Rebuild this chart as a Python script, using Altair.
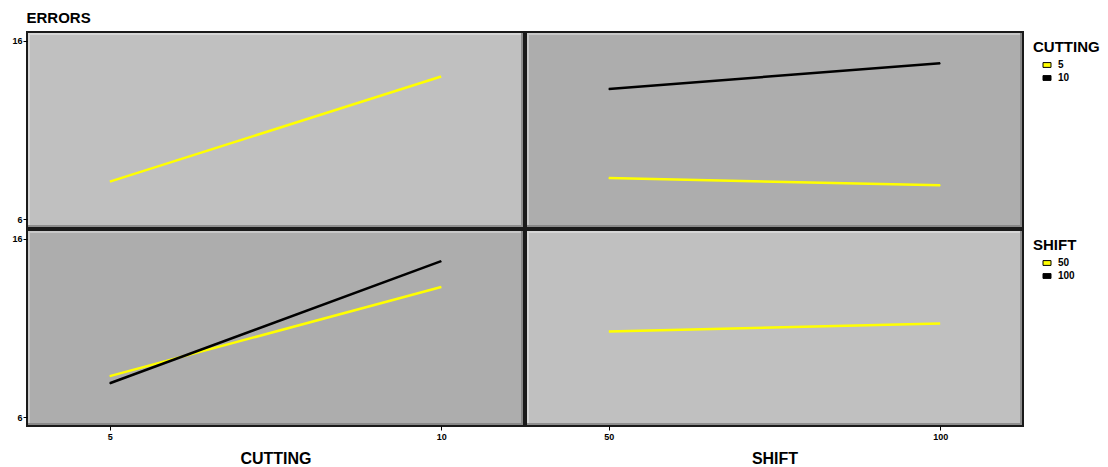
import altair as alt
import pandas as pd

# ---- data ----
cutting_levels = [5, 10]
shift_levels = [50, 100]
cutting_main = [8.1, 14.0]          # mean ERRORS by CUTTING
shift_main = [10.8, 11.25]          # mean ERRORS by SHIFT
errors_cut5 = [8.3, 7.9]            # CUTTING=5 at SHIFT 50, 100
errors_cut10 = [13.3, 14.75]        # CUTTING=10 at SHIFT 50, 100

FONT = "Liberation Sans"
LIGHT = "#C0C0C0"
DARK = "#ADADAD"
YELLOW = "#FFFF00"
W, H = 497, 196
YDOM = [5.5, 16.5]

df_main_cut = pd.DataFrame({"CUTTING": cutting_levels, "ERRORS": cutting_main})
df_main_shift = pd.DataFrame({"SHIFT": shift_levels, "ERRORS": shift_main})
rows = []
for i, s in enumerate(shift_levels):
    rows.append({"CUTTING": cutting_levels[0], "SHIFT": s, "ERRORS": errors_cut5[i]})
    rows.append({"CUTTING": cutting_levels[1], "SHIFT": s, "ERRORS": errors_cut10[i]})
df_cells = pd.DataFrame(rows)
df_cells["CUT_LBL"] = df_cells["CUTTING"].astype(str)
df_cells["SHIFT_LBL"] = df_cells["SHIFT"].astype(str)

one = pd.DataFrame({"k": [0]})


def bevel(hi, lo):
    b = alt.Chart(one)
    return [
        b.mark_rule(color=hi, strokeWidth=2).encode(x=alt.value(1), x2=alt.value(W - 1), y=alt.value(2)),
        b.mark_rule(color=hi, strokeWidth=2).encode(x=alt.value(2), y=alt.value(1), y2=alt.value(H - 1)),
        b.mark_rule(color=lo, strokeWidth=2).encode(x=alt.value(1), x2=alt.value(W - 1), y=alt.value(H - 2)),
        b.mark_rule(color=lo, strokeWidth=2).encode(x=alt.value(W - 2), y=alt.value(1), y2=alt.value(H - 1)),
    ]


lab = dict(labelFont=FONT, labelFontSize=9, labelFontWeight="bold", labelColor="black",
           tickColor="black", tickSize=4, tickWidth=1, domain=False, grid=False)
ttl = dict(titleFont=FONT, titleFontSize=16, titleFontWeight="bold", titleColor="black")


def yaxis(show, title=None):
    if not show:
        return None
    kw = dict(values=[6, 16], labelPadding=1, **lab)
    if title:
        kw.update(title=title, titleAngle=0, titleX=-1, titleY=-10, titleAlign="left",
                  titleBaseline="alphabetic", titleFont=FONT, titleFontSize=15,
                  titleFontWeight="bold", titleColor="black")
    else:
        kw.update(title=None)
    return alt.Axis(**kw)


def xaxis(show, vals, title):
    if not show:
        return None
    return alt.Axis(values=vals, title=title, labelPadding=2, titlePadding=9, **lab, **ttl)


leg = dict(orient="none", legendX=2 * W + 12, legendY=8, padding=0, titleFont=FONT, titleFontSize=15,
           titleFontWeight="bold", titleColor="black", titlePadding=5,
           labelFont=FONT, labelFontSize=10, labelFontWeight="bold", labelColor="black",
           symbolType="M-1,-0.6H1V0.6H-1Z", symbolSize=64, symbolStrokeColor="black",
           symbolStrokeWidth=1, symbolOpacity=1, symbolOffset=9, rowPadding=3, labelOffset=6)

cut_x = lambda show: alt.X("CUTTING:Q", scale=alt.Scale(domain=[3.75, 11.25], nice=False, zero=False),
                           axis=xaxis(show, [5, 10], "CUTTING"))
shift_x = lambda show: alt.X("SHIFT:Q", scale=alt.Scale(domain=[37.5, 112.5], nice=False, zero=False),
                             axis=xaxis(show, [50, 100], "SHIFT"))
err_y = lambda show, title=None: alt.Y("ERRORS:Q", scale=alt.Scale(domain=YDOM, nice=False, zero=False),
                                       axis=yaxis(show, title))

view = lambda fill: alt.ViewBackground(fill=fill, stroke="#1a1a1a", strokeWidth=2)


def grouped(field, dom, title, show_x, show_y, xfun):
    scale = alt.Scale(domain=dom, range=[YELLOW, "black"])
    layers = []
    for lvl, col in zip(dom, [YELLOW, "black"]):
        layers.append(
            alt.Chart(df_cells).transform_filter(alt.datum[field] == lvl)
            .mark_line(strokeWidth=2.5, color=col)
            .encode(x=xfun(show_x), y=err_y(show_y))
        )
    layers.append(
        alt.Chart(df_cells).mark_point(filled=True, size=1, opacity=1).encode(
            x=xfun(show_x), y=err_y(show_y),
            fill=alt.Fill(field + ":N", scale=scale, legend=alt.Legend(title=title, **leg)))
    )
    return layers


# top-left: main effect of CUTTING
tl = alt.layer(
    *bevel("#D6D6D6", "#8E8E8E"),
    alt.Chart(df_main_cut).mark_line(color=YELLOW, strokeWidth=2.5).encode(
        x=cut_x(False), y=err_y(True, "ERRORS")),
).properties(width=W, height=H, view=view(LIGHT))

# top-right: SHIFT on x, lines by CUTTING
tr = alt.layer(
    *bevel("#C8C8C8", "#888888"),
    *grouped("CUT_LBL", ["5", "10"], "CUTTING", False, False, shift_x),
).properties(width=W, height=H, view=view(DARK))

# bottom-left: CUTTING on x, lines by SHIFT
bl = alt.layer(
    *bevel("#C8C8C8", "#888888"),
    *grouped("SHIFT_LBL", ["50", "100"], "SHIFT", True, True, cut_x),
).properties(width=W, height=H, view=view(DARK))

# bottom-right: main effect of SHIFT
br = alt.layer(
    *bevel("#D6D6D6", "#8E8E8E"),
    alt.Chart(df_main_shift).mark_line(color=YELLOW, strokeWidth=2.5).encode(
        x=shift_x(True), y=err_y(False)),
).properties(width=W, height=H, view=view(LIGHT))

top = alt.hconcat(tl, tr, spacing=0)
bottom = alt.hconcat(bl, br, spacing=0)

chart = alt.vconcat(top, bottom, spacing=0).resolve_scale(fill="independent").properties(
    padding={"left": 2, "top": 1, "right": 0, "bottom": 0},
    background="white",
).configure_view(stroke="#1a1a1a", strokeWidth=2)

chart.save("out.html", embed_options={"renderer": "svg", "actions": False})
